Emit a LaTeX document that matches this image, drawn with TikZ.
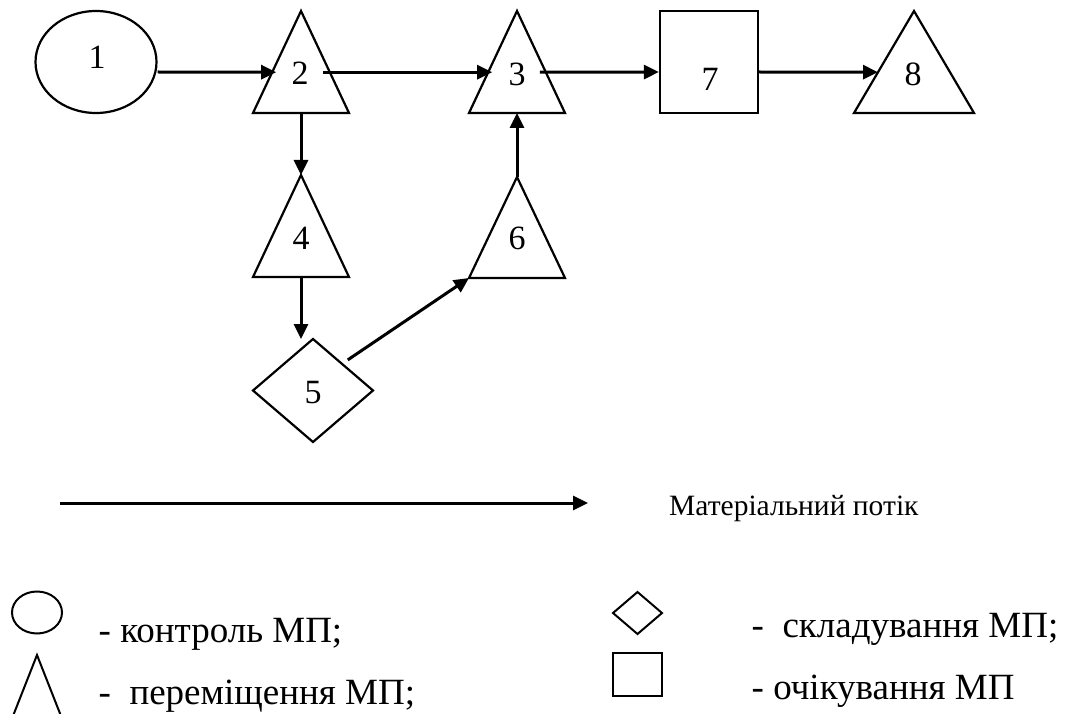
\documentclass[tikz,border=0pt]{standalone}
\usepackage{fontspec}
\setmainfont{Liberation Serif}
\usetikzlibrary{arrows.meta,calc,shapes.geometric}
\begin{document}
\begin{tikzpicture}[x=1pt,y=-1pt,
  shp/.style={line width=2.2pt, line join=miter},
  lshp/.style={line width=2pt, line join=miter},
  box/.style={draw=none, inner sep=0pt, outer sep=0pt, rectangle},
  num/.style={inner sep=0pt, font=\fontsize{34pt}{40pt}\selectfont},
  arr/.style={line width=3pt, -{Triangle[length=15pt,width=14pt]}},
  leg/.style={inner sep=0pt, anchor=base west, font=\fontsize{37pt}{43pt}\selectfont},
]
\useasboundingbox (0,0) rectangle (1068,714);

% ---- main diagram shapes ----
\node[ellipse, draw, shp, minimum width=121pt, minimum height=102pt, inner sep=0pt] (e1) at (96,62) {};
\node[num] (l1) at (97,57) {1};

\node[box, minimum width=96pt, minimum height=102pt] (t2) at (301,62) {};
\draw[shp] (t2.north) -- (t2.south east) -- (t2.south west) -- cycle;
\node[num] (l2) at (300,73.5) {2};

\node[box, minimum width=96pt, minimum height=102pt] (t3) at (517,62) {};
\draw[shp] (t3.north) -- (t3.south east) -- (t3.south west) -- cycle;
\node[num] (l3) at (517,74) {3};

\node[draw, shp, rectangle, minimum width=98pt, minimum height=102pt, inner sep=0pt] (s7) at (709,62) {};
\node[num] (l7) at (710,79.5) {7};

\node[box, minimum width=120pt, minimum height=102pt] (t8) at (914,62) {};
\draw[shp] (t8.north) -- (t8.south east) -- (t8.south west) -- cycle;
\node[num] (l8) at (913,74) {8};

\node[box, minimum width=96pt, minimum height=102pt] (t4) at (301,226) {};
\draw[shp] (t4.north) -- (t4.south east) -- (t4.south west) -- cycle;
\node[num] (l4) at (301,238) {4};

\node[box, minimum width=96pt, minimum height=101pt] (t6) at (517,227.5) {};
\draw[shp] (t6.north) -- (t6.south east) -- (t6.south west) -- cycle;
\node[num] (l6) at (517,238.5) {6};

\node[box, minimum width=120pt, minimum height=103pt] (d5) at (313,390.5) {};
\draw[shp] (d5.north) -- (d5.east) -- (d5.south) -- (d5.west) -- cycle;
\node[num] (l5) at (313,392.5) {5};

% ---- connectors ----
\coordinate (row) at (0,72);
\draw[arr] (e1.east |- row) -- ($(t2.south west)!0.4!(t2.north)+(4,0)$);
\draw[arr] ($(t2.south east)!0.4!(t2.north)+(-7,0)$) -- ($(t3.south west)!0.4!(t3.north)+(4,0)$);
\draw[arr] ($(t3.south east)!0.4!(t3.north)+(-6,0)$) -- (s7.west |- row);
\draw[arr] (s7.east |- row) -- ($(t8.south west)!0.4!(t8.north)$);
\draw[arr] (t2.south) -- (t4.north);
\draw[arr] (t4.south) -- (t4.south |- d5.north);
\draw[arr] ($(d5.north)!0.58!(d5.east)+(0,-9)$) -- (t6.south west);
\draw[arr] (t6.north) -- (t3.south);

% ---- material flow legend ----
\coordinate (fs) at (60,503);
\coordinate (fe) at (588,503);
\draw[arr] (fs) -- (fe);
\node[anchor=base west, inner sep=0pt, font=\fontsize{29.5pt}{35pt}\selectfont] (flow) at (669,515) {Матеріальний потік};

% ---- symbol legend ----
\node[ellipse, draw, lshp, minimum width=50pt, minimum height=42pt, inner sep=0pt] (le) at (37,612.5) {};
\draw[lshp] (13,716) -- (37,655) -- (61,716);
\node[box, minimum width=49pt, minimum height=42pt] (ld) at (637.5,613) {};
\draw[lshp] (ld.north) -- (ld.east) -- (ld.south) -- (ld.west) -- cycle;
\node[draw, lshp, rectangle, minimum width=49pt, minimum height=43pt, inner sep=0pt] (ls) at (637.5,674.5) {};

\node[leg] (tctrl) at (98.5,642) {- контроль МП;};
\node[leg] (tmove) at (98.5,704) {-\ \ переміщення МП;};
\node[leg] (tstore) at (751.5,637) {-\ \ складування МП;};
\node[leg] (twait) at (751.5,699) {- очікування МП};
\end{tikzpicture}
\end{document}
